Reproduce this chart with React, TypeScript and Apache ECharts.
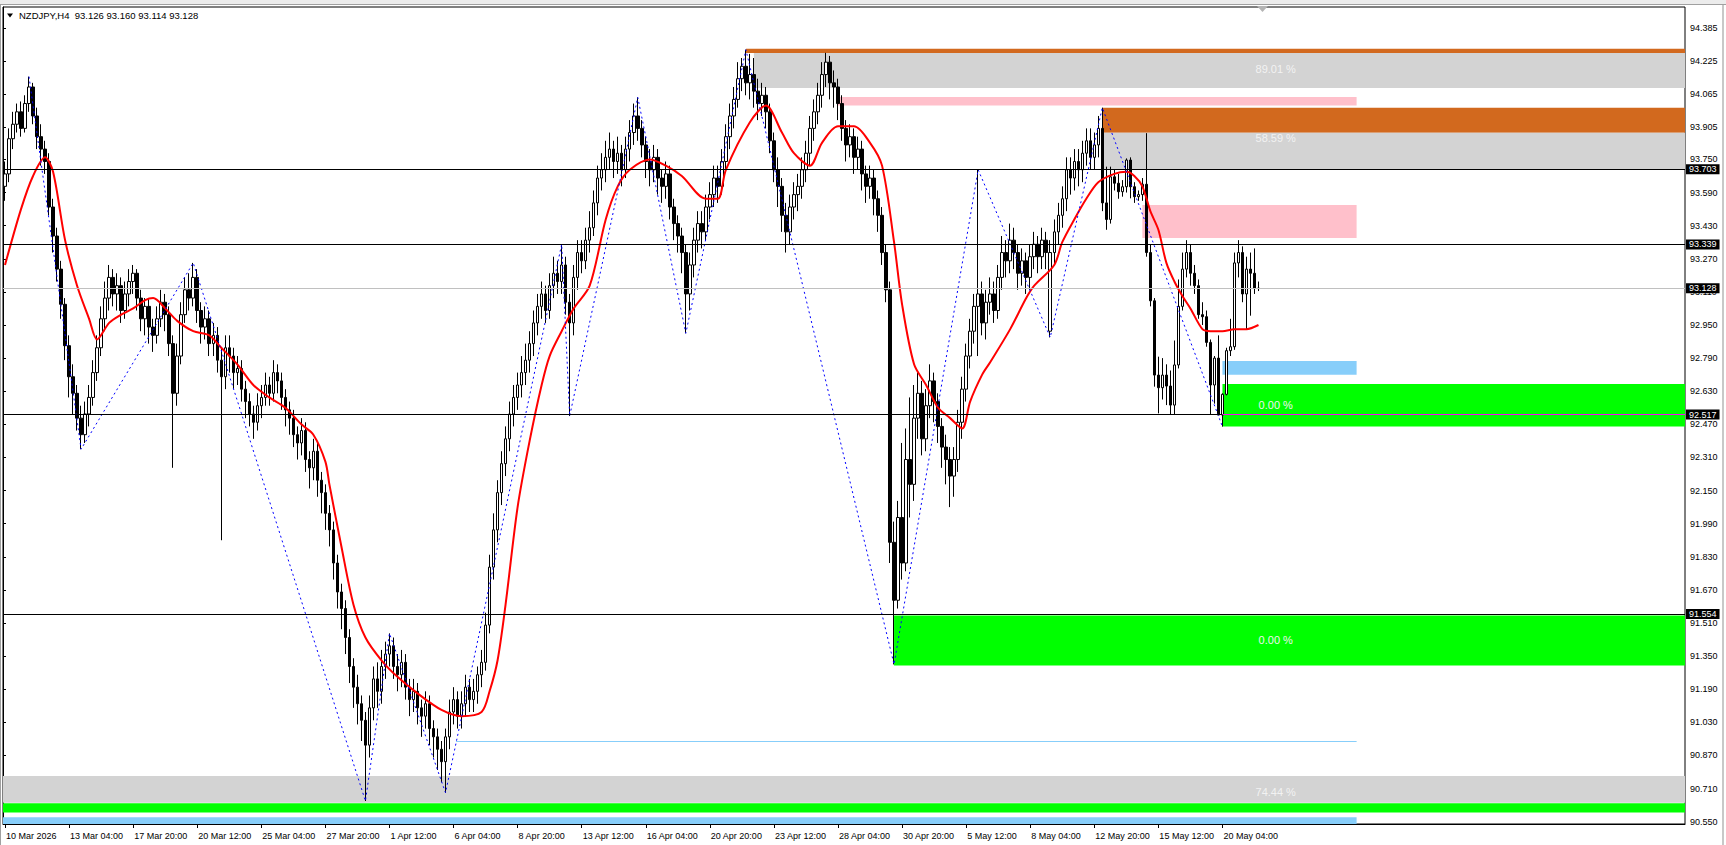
import React, { useEffect, useRef } from "react";
import * as echarts from "echarts";

// ---------------- data ----------------
const HEADER_TEXT = "NZDJPY,H4\u00a0\u00a093.126 93.160 93.114 93.128";

const TICK_LABELS = [
  "10 Mar 2026", "13 Mar 04:00", "17 Mar 20:00", "20 Mar 12:00", "25 Mar 04:00",
  "27 Mar 20:00", "1 Apr 12:00", "6 Apr 04:00", "8 Apr 20:00", "13 Apr 12:00",
  "16 Apr 04:00", "20 Apr 20:00", "23 Apr 12:00", "28 Apr 04:00", "30 Apr 20:00",
  "5 May 12:00", "8 May 04:00", "12 May 20:00", "15 May 12:00", "20 May 04:00",
];
const BARS_PER_LABEL = 16;
const SLOT_COUNT = 420;

const PRICE_LABELS = [
  94.385, 94.225, 94.065, 93.905, 93.75, 93.59, 93.43, 93.27, 93.11, 92.95,
  92.79, 92.63, 92.47, 92.31, 92.15, 91.99, 91.83, 91.67, 91.51, 91.35,
  91.19, 91.03, 90.87, 90.71, 90.55,
];
const Y_MIN = 90.5389;
const Y_MAX = 94.4865;

// [open, close, low, high]
const CANDLES: number[][] = [
  [93.62, 93.68, 93.55, 93.74], [93.68, 93.85, 93.64, 93.9], [93.85, 93.92, 93.8, 93.98], [93.92, 93.98, 93.88, 94.02],
  [93.98, 93.9, 93.86, 94.03], [93.9, 94.02, 93.88, 94.06], [94.02, 94.1, 93.98, 94.15], [94.1, 93.96, 93.92, 94.12],
  [93.96, 93.86, 93.8, 94.0], [93.86, 93.8, 93.72, 93.92], [93.8, 93.74, 93.68, 93.84], [93.74, 93.52, 93.48, 93.78],
  [93.52, 93.38, 93.3, 93.56], [93.38, 93.22, 93.16, 93.42], [93.22, 93.05, 92.98, 93.26], [93.05, 92.85, 92.78, 93.08],
  [92.85, 92.7, 92.6, 92.9], [92.7, 92.62, 92.52, 92.76], [92.62, 92.5, 92.44, 92.66], [92.5, 92.42, 92.35, 92.56],
  [92.42, 92.52, 92.38, 92.58], [92.52, 92.6, 92.46, 92.66], [92.6, 92.72, 92.56, 92.78], [92.72, 92.84, 92.68, 92.9],
  [92.84, 92.98, 92.8, 93.04], [92.98, 93.08, 92.92, 93.16], [93.08, 93.18, 93.02, 93.24], [93.18, 93.1, 93.04, 93.22],
  [93.1, 93.14, 93.02, 93.2], [93.14, 93.02, 92.96, 93.18], [93.02, 93.1, 92.98, 93.16], [93.1, 93.16, 93.04, 93.22],
  [93.16, 93.2, 93.1, 93.24], [93.2, 93.08, 93.02, 93.22], [93.08, 92.98, 92.92, 93.12], [92.98, 93.04, 92.9, 93.08],
  [93.04, 92.94, 92.86, 93.08], [92.94, 92.9, 92.82, 92.98], [92.9, 92.98, 92.86, 93.04], [92.98, 93.06, 92.94, 93.12],
  [93.06, 93.0, 92.92, 93.1], [93.0, 92.86, 92.8, 93.04], [92.86, 92.62, 92.26, 92.9], [92.62, 92.8, 92.56, 92.86],
  [92.8, 93.0, 92.76, 93.06], [93.0, 93.12, 92.96, 93.18], [93.12, 93.08, 93.02, 93.2], [93.08, 93.18, 93.04, 93.25],
  [93.18, 93.02, 92.96, 93.22], [93.02, 92.94, 92.86, 93.06], [92.94, 92.98, 92.88, 93.04], [92.98, 92.86, 92.8, 93.02],
  [92.86, 92.9, 92.8, 92.96], [92.9, 92.78, 92.72, 92.94], [92.78, 92.7, 91.91, 92.84], [92.7, 92.84, 92.64, 92.9],
  [92.84, 92.8, 92.72, 92.9], [92.8, 92.72, 92.64, 92.84], [92.72, 92.74, 92.66, 92.8], [92.74, 92.64, 92.58, 92.78],
  [92.64, 92.58, 92.5, 92.68], [92.58, 92.52, 92.46, 92.62], [92.52, 92.48, 92.4, 92.56], [92.48, 92.56, 92.44, 92.62],
  [92.56, 92.6, 92.5, 92.66], [92.6, 92.66, 92.56, 92.72], [92.66, 92.62, 92.56, 92.7], [92.62, 92.72, 92.58, 92.78],
  [92.72, 92.68, 92.62, 92.76], [92.68, 92.6, 92.54, 92.72], [92.6, 92.54, 92.46, 92.64], [92.54, 92.5, 92.42, 92.58],
  [92.5, 92.42, 92.36, 92.54], [92.42, 92.38, 92.3, 92.46], [92.38, 92.44, 92.32, 92.5], [92.44, 92.3, 92.24, 92.48],
  [92.3, 92.26, 92.16, 92.34], [92.26, 92.34, 92.2, 92.4], [92.34, 92.2, 92.12, 92.38], [92.2, 92.14, 92.04, 92.24],
  [92.14, 92.04, 91.96, 92.18], [92.04, 91.96, 91.88, 92.08], [91.96, 91.8, 91.72, 92.0], [91.8, 91.66, 91.58, 91.84],
  [91.66, 91.58, 91.48, 91.7], [91.58, 91.44, 91.36, 91.62], [91.44, 91.3, 91.22, 91.48], [91.3, 91.2, 91.1, 91.34],
  [91.2, 91.12, 91.02, 91.26], [91.12, 91.04, 90.94, 91.16], [91.04, 90.92, 90.65, 91.08], [90.92, 91.1, 90.86, 91.16],
  [91.1, 91.24, 91.04, 91.3], [91.24, 91.18, 91.1, 91.32], [91.18, 91.3, 91.12, 91.38], [91.3, 91.36, 91.24, 91.42],
  [91.36, 91.4, 91.3, 91.46], [91.4, 91.3, 91.24, 91.44], [91.3, 91.26, 91.18, 91.36], [91.26, 91.32, 91.2, 91.38],
  [91.32, 91.2, 91.14, 91.36], [91.2, 91.14, 91.06, 91.24], [91.14, 91.18, 91.08, 91.24], [91.18, 91.1, 91.02, 91.22],
  [91.1, 91.06, 90.96, 91.14], [91.06, 91.12, 91.0, 91.18], [91.12, 91.0, 90.92, 91.16], [91.0, 90.96, 90.86, 91.04],
  [90.96, 90.9, 90.8, 91.0], [90.9, 90.84, 90.74, 90.94], [90.84, 90.96, 90.69, 91.0], [90.96, 91.08, 90.9, 91.14],
  [91.08, 91.14, 91.02, 91.2], [91.14, 91.06, 91.0, 91.18], [91.06, 91.12, 91.0, 91.18], [91.12, 91.2, 91.06, 91.26],
  [91.2, 91.14, 91.08, 91.24], [91.14, 91.18, 91.08, 91.24], [91.18, 91.26, 91.12, 91.3], [91.26, 91.32, 91.2, 91.38],
  [91.32, 91.5, 91.28, 91.56], [91.5, 91.78, 91.46, 91.84], [91.78, 91.96, 91.72, 92.04], [91.96, 92.14, 91.9, 92.2],
  [92.14, 92.28, 92.08, 92.34], [92.28, 92.4, 92.22, 92.46], [92.4, 92.52, 92.34, 92.58], [92.52, 92.6, 92.46, 92.66],
  [92.6, 92.66, 92.54, 92.72], [92.66, 92.72, 92.6, 92.8], [92.72, 92.78, 92.66, 92.86], [92.78, 92.86, 92.72, 92.92],
  [92.86, 92.96, 92.8, 93.02], [92.96, 93.04, 92.9, 93.1], [93.04, 93.1, 92.98, 93.16], [93.1, 93.02, 92.96, 93.14],
  [93.02, 93.14, 92.98, 93.2], [93.14, 93.2, 93.08, 93.28], [93.2, 93.16, 93.1, 93.26], [93.16, 93.24, 93.1, 93.34],
  [93.24, 93.06, 93.0, 93.28], [93.06, 92.96, 92.51, 93.1], [92.96, 93.18, 92.9, 93.24], [93.18, 93.3, 93.12, 93.36],
  [93.3, 93.26, 93.2, 93.36], [93.26, 93.36, 93.22, 93.42], [93.36, 93.42, 93.3, 93.5], [93.42, 93.54, 93.38, 93.6],
  [93.54, 93.66, 93.48, 93.72], [93.66, 93.7, 93.6, 93.78], [93.7, 93.76, 93.64, 93.84], [93.76, 93.8, 93.7, 93.88],
  [93.8, 93.74, 93.66, 93.84], [93.74, 93.78, 93.68, 93.86], [93.78, 93.7, 93.62, 93.82], [93.7, 93.8, 93.66, 93.86],
  [93.8, 93.88, 93.74, 93.94], [93.88, 93.96, 93.82, 94.02], [93.96, 93.9, 93.84, 94.05], [93.9, 93.82, 93.76, 93.94],
  [93.82, 93.74, 93.66, 93.86], [93.74, 93.7, 93.62, 93.8], [93.7, 93.76, 93.64, 93.82], [93.76, 93.66, 93.58, 93.8],
  [93.66, 93.62, 93.54, 93.7], [93.62, 93.68, 93.56, 93.74], [93.68, 93.52, 93.46, 93.72], [93.52, 93.44, 93.36, 93.56],
  [93.44, 93.38, 93.3, 93.48], [93.38, 93.3, 93.2, 93.42], [93.3, 93.1, 92.91, 93.34], [93.1, 93.24, 93.02, 93.3],
  [93.24, 93.36, 93.18, 93.42], [93.36, 93.44, 93.3, 93.5], [93.44, 93.4, 93.32, 93.5], [93.4, 93.52, 93.36, 93.58],
  [93.52, 93.58, 93.46, 93.64], [93.58, 93.66, 93.52, 93.72], [93.66, 93.62, 93.54, 93.72], [93.62, 93.74, 93.58, 93.8],
  [93.74, 93.86, 93.7, 93.92], [93.86, 93.96, 93.8, 94.02], [93.96, 94.04, 93.9, 94.1], [94.04, 94.14, 94.0, 94.22],
  [94.14, 94.2, 94.08, 94.24], [94.2, 94.12, 94.06, 94.28], [94.12, 94.16, 94.04, 94.26], [94.16, 94.08, 94.0, 94.24],
  [94.08, 94.02, 93.94, 94.14], [94.02, 94.06, 93.96, 94.12], [94.06, 93.98, 93.9, 94.1], [93.98, 93.84, 93.78, 94.02],
  [93.84, 93.7, 93.64, 93.88], [93.7, 93.62, 93.52, 93.76], [93.62, 93.48, 93.4, 93.66], [93.48, 93.4, 93.3, 93.54],
  [93.4, 93.52, 93.34, 93.58], [93.52, 93.58, 93.46, 93.64], [93.58, 93.62, 93.5, 93.68], [93.62, 93.7, 93.56, 93.76],
  [93.7, 93.78, 93.64, 93.84], [93.78, 93.9, 93.72, 93.96], [93.9, 93.98, 93.84, 94.04], [93.98, 94.06, 93.92, 94.12],
  [94.06, 94.16, 94.0, 94.22], [94.16, 94.22, 94.1, 94.265], [94.22, 94.12, 94.04, 94.25], [94.12, 94.1, 94.0, 94.18],
  [94.1, 94.02, 93.94, 94.14], [94.02, 93.9, 93.84, 94.06], [93.9, 93.82, 93.74, 93.94], [93.82, 93.86, 93.76, 93.92],
  [93.86, 93.76, 93.68, 93.9], [93.76, 93.8, 93.7, 93.86], [93.8, 93.68, 93.6, 93.84], [93.68, 93.62, 93.54, 93.72],
  [93.62, 93.66, 93.56, 93.72], [93.66, 93.56, 93.48, 93.7], [93.56, 93.48, 93.4, 93.6], [93.48, 93.3, 93.24, 93.52],
  [93.3, 93.12, 93.06, 93.34], [93.12, 91.9, 91.8, 93.16], [91.9, 91.62, 91.31, 92.0], [91.62, 92.02, 91.58, 92.1],
  [92.02, 91.8, 91.72, 92.38], [91.8, 92.3, 91.76, 92.45], [92.3, 92.18, 92.02, 92.6], [92.18, 92.5, 92.1, 92.66],
  [92.5, 92.62, 92.4, 92.72], [92.62, 92.4, 92.32, 92.68], [92.4, 92.56, 92.34, 92.64], [92.56, 92.68, 92.5, 92.76],
  [92.68, 92.58, 92.48, 92.72], [92.58, 92.46, 92.38, 92.62], [92.46, 92.36, 92.26, 92.5], [92.36, 92.3, 92.18, 92.42],
  [92.3, 92.22, 92.07, 92.36], [92.22, 92.3, 92.12, 92.36], [92.3, 92.48, 92.24, 92.54], [92.48, 92.64, 92.4, 92.7],
  [92.64, 92.8, 92.58, 92.86], [92.8, 92.92, 92.74, 92.98], [92.92, 93.04, 92.86, 93.1], [93.04, 93.1, 92.8, 93.7],
  [93.1, 92.96, 92.9, 93.16], [92.96, 93.06, 92.88, 93.12], [93.06, 93.1, 93.0, 93.18], [93.1, 93.02, 92.96, 93.16],
  [93.02, 93.18, 92.98, 93.24], [93.18, 93.3, 93.12, 93.38], [93.3, 93.26, 93.18, 93.36], [93.26, 93.36, 93.2, 93.44],
  [93.36, 93.3, 93.22, 93.42], [93.3, 93.2, 93.12, 93.34], [93.2, 93.26, 93.14, 93.32], [93.26, 93.18, 93.1, 93.3],
  [93.18, 93.28, 93.12, 93.34], [93.28, 93.34, 93.22, 93.4], [93.34, 93.28, 93.2, 93.38], [93.28, 93.36, 93.22, 93.42],
  [93.36, 93.3, 93.22, 93.4], [92.92, 93.3, 92.89, 93.36], [93.3, 93.4, 93.24, 93.46], [93.4, 93.48, 93.34, 93.54],
  [93.48, 93.56, 93.42, 93.62], [93.56, 93.7, 93.5, 93.76], [93.7, 93.66, 93.58, 93.76], [93.66, 93.74, 93.6, 93.8],
  [93.74, 93.7, 93.62, 93.8], [93.7, 93.78, 93.64, 93.84], [93.78, 93.84, 93.72, 93.9], [93.84, 93.76, 93.7, 93.9],
  [93.76, 93.82, 93.7, 93.88], [93.82, 93.9, 93.76, 93.96], [93.9, 93.54, 93.5, 94.0], [93.54, 93.46, 93.41, 93.715],
  [93.46, 93.666, 93.44, 93.715], [93.666, 93.635, 93.6, 93.7], [93.635, 93.594, 93.56, 93.68], [93.594, 93.618, 93.57, 93.65],
  [93.618, 93.747, 93.59, 93.755], [93.747, 93.618, 93.562, 93.76], [93.618, 93.57, 93.54, 93.64], [93.57, 93.58, 93.55, 93.6],
  [93.58, 93.63, 93.55, 93.66], [93.63, 93.3, 93.28, 93.877], [93.3, 93.067, 93.04, 93.34], [93.067, 92.708, 92.652, 93.08],
  [92.708, 92.647, 92.523, 92.797], [92.647, 92.708, 92.59, 92.79], [92.708, 92.655, 92.563, 92.76], [92.655, 92.563, 92.515, 92.73],
  [92.563, 92.757, 92.515, 92.875], [92.757, 93.04, 92.74, 93.17], [93.04, 93.22, 93.02, 93.3], [93.22, 93.3, 93.18, 93.36],
  [93.3, 93.2, 93.14, 93.34], [93.2, 93.14, 93.1, 93.24], [93.14, 93.0, 92.98, 93.17], [93.0, 92.99, 92.95, 93.06],
  [92.99, 92.866, 92.845, 93.02], [92.866, 92.66, 92.515, 92.88], [92.66, 92.79, 92.57, 92.8], [92.79, 92.515, 92.515, 92.9],
  [92.515, 92.615, 92.459, 92.62], [92.615, 92.826, 92.61, 92.84], [92.826, 92.845, 92.8, 92.98], [92.845, 93.25, 92.83, 93.3],
  [93.25, 93.3, 93.18, 93.36], [93.3, 93.1, 93.06, 93.33], [93.1, 93.22, 92.93, 93.28], [93.22, 93.2, 92.995, 93.3],
  [93.2, 93.126, 93.1, 93.32], [93.126, 93.128, 93.114, 93.16],
];

// moving average: [bar index, value]
const MA_POINTS: number[][] = [
  [0, 93.24], [4, 93.51], [7, 93.67], [10, 93.76], [12, 93.69], [15, 93.36], [18, 93.14], [21, 92.98],
  [23, 92.88], [26, 92.96], [29, 93.0], [32, 93.03], [35, 93.07], [37, 93.08], [40, 93.03], [43, 92.97],
  [47, 92.92], [51, 92.9], [54, 92.84], [58, 92.76], [62, 92.66], [66, 92.6], [70, 92.55], [74, 92.47],
  [77, 92.42], [80, 92.29], [81, 92.18], [84, 91.88], [87, 91.6], [90, 91.44], [94, 91.33], [98, 91.25],
  [103, 91.17], [109, 91.09], [114, 91.06], [119, 91.08], [121, 91.18], [123, 91.33], [125, 91.6], [128, 92.07],
  [131, 92.39], [134, 92.66], [136, 92.8], [139, 92.92], [142, 93.03], [146, 93.14], [150, 93.46], [153, 93.62],
  [156, 93.7], [161, 93.75], [165, 93.72], [169, 93.67], [175, 93.56], [178, 93.56], [180, 93.7], [186, 93.93],
  [190, 94.01], [194, 93.88], [197, 93.78], [201, 93.72], [204, 93.83], [208, 93.91], [212, 93.91], [216, 93.83],
  [219, 93.72], [222, 93.35], [224, 93.05], [227, 92.76], [230, 92.66], [233, 92.55], [236, 92.5], [239, 92.45],
  [241, 92.58], [244, 92.71], [246, 92.77], [251, 92.93], [255, 93.08], [257, 93.14], [262, 93.24], [264, 93.35],
  [267, 93.46], [270, 93.56], [273, 93.64], [277, 93.68], [280, 93.69], [282, 93.67], [284, 93.62], [286, 93.5],
  [288, 93.41], [290, 93.25], [292, 93.16], [294, 93.09], [296, 93.03], [299, 92.93], [301, 92.92], [304, 92.92],
  [307, 92.93], [310, 92.93], [313, 92.95],
];

// zigzag vertices: [bar index, price]
const ZIGZAG_POINTS: number[][] = [
  [6, 94.15], [19, 92.35], [47, 93.25], [90, 90.65], [96, 91.46], [110, 90.69], [139, 93.34], [141, 92.51],
  [158, 94.05], [170, 92.91], [185, 94.28], [222, 91.31], [243, 93.7], [261, 92.89], [274, 94.0], [304, 92.459],
];

// horizontal levels
const LEVEL_LINES = [93.703, 93.339, 92.517, 91.554];
const BID_PRICE = 93.128;

// zones: [start bar (null = left edge), end bar (null = right edge), high, low, kind]
const ZONES: (number | null | string)[][] = [
  [185, null, 94.285, 94.264, "orange"],
  [187, null, 94.264, 94.095, "gray"],
  [208, 337.5, 94.052, 94.01, "pink"],
  [274, null, 94.0, 93.879, "orange"],
  [274, null, 93.879, 93.704, "gray"],
  [284, 337.5, 93.53, 93.37, "pink"],
  [304, 337.5, 92.776, 92.71, "blue"],
  [304, null, 92.665, 92.459, "green"],
  [222, null, 91.546, 91.305, "green"],
  [null, null, 90.771, 90.642, "gray"],
  [null, null, 90.639, 90.594, "green"],
  [null, 337.5, 90.571, Y_MIN, "blue"],
];
const MAGENTA_LINE = [304, 92.517];
const BLUE_LINE = [112.6, 337.5, 90.938];

// level percentage labels: [text, price]
const PERCENT_LABELS: (string | number)[][] = [
  ["89.01 %", 94.185],
  ["58.59 %", 93.855],
  ["0.00 %", 92.563],
  ["0.00 %", 91.428],
  ["74.44 %", 90.694],
];
const PERCENT_LABEL_BAR = 317.3;

// ---------------- styles ----------------
const FONT = "'Liberation Sans', Arial, sans-serif";
const ZONE_COLORS: Record<string, string> = {
  orange: "#d2691e",
  gray: "#d3d3d3",
  pink: "#ffc0cb",
  blue: "#87cefa",
  green: "#00ff00",
};

export default function App() {
  const ref = useRef<HTMLDivElement>(null);

  useEffect(() => {
    document.body.style.margin = "0";
    if (!ref.current) return;
    const chart = echarts.init(ref.current, undefined, { renderer: "svg" });

    const categories = Array.from({ length: SLOT_COUNT }, (_, i) => String(i));
    const showTick = (index: number) =>
      index % BARS_PER_LABEL === 0 && index / BARS_PER_LABEL < TICK_LABELS.length;

    const maData: (number | null)[] = new Array(SLOT_COUNT).fill(null);
    MA_POINTS.forEach(([i, v]) => (maData[i] = v));
    const zzData: (number | null)[] = new Array(SLOT_COUNT).fill(null);
    ZIGZAG_POINTS.forEach(([i, v]) => (zzData[i] = v));

    const slot = (bar: number | null, edge: number) => (bar === null ? edge : (bar as number) + 0.5);

    const areaData = ZONES.map((z) => [
      { xAxis: slot(z[0] as number | null, 0), yAxis: z[2] as number, itemStyle: { color: ZONE_COLORS[z[4] as string] } },
      { xAxis: slot(z[1] as number | null, SLOT_COUNT), yAxis: z[3] as number },
    ]);

    const levelLabel = (v: number) => ({
      show: true,
      position: "end",
      distance: 1,
      formatter: v.toFixed(3),
      backgroundColor: "#000",
      color: "#fff",
      fontFamily: FONT,
      fontSize: 9,
      lineHeight: 9,
      padding: [1, 3, 0, 3],
    });

    const lineData: any[] = [
      ...LEVEL_LINES.map((v) => ({ yAxis: v, lineStyle: { color: "#000", width: 1, type: "solid" }, label: levelLabel(v) })),
      { yAxis: BID_PRICE, lineStyle: { color: "#c0c0c0", width: 1, type: "solid" }, label: levelLabel(BID_PRICE) },
      [
        { coord: [MAGENTA_LINE[0] + 0.5, MAGENTA_LINE[1]], lineStyle: { color: "#ff00ff", width: 1, type: "solid" }, label: { show: false } },
        { coord: [SLOT_COUNT, MAGENTA_LINE[1]] },
      ],
      [
        { coord: [BLUE_LINE[0] + 0.5, BLUE_LINE[2]], lineStyle: { color: "#87cefa", width: 1, type: "solid" }, label: { show: false } },
        { coord: [BLUE_LINE[1] + 0.5, BLUE_LINE[2]] },
      ],
    ];

    const pointData = PERCENT_LABELS.map(([t, p]) => ({
      coord: [PERCENT_LABEL_BAR + 0.5, p as number],
      symbol: "circle",
      symbolSize: 1,
      itemStyle: { color: "rgba(0,0,0,0)" },
      label: {
        show: true,
        position: "inside",
        formatter: t as string,
        color: "#f2f2f2",
        fontFamily: FONT,
        fontSize: 11,
      },
    }));

    chart.setOption({
      animation: false,
      backgroundColor: "#ffffff",
      textStyle: { fontFamily: FONT },
      grid: {
        left: 3,
        right: 41,
        top: 7,
        bottom: 21,
        show: true,
        borderColor: "#000",
        borderWidth: 1,
        backgroundColor: "transparent",
      },
      xAxis: [
        {
          type: "category",
          data: categories,
          boundaryGap: true,
          axisLine: { show: true, lineStyle: { color: "#000", width: 1 } },
          axisTick: { show: true, alignWithLabel: true, interval: showTick, length: 4, lineStyle: { color: "#000" } },
          axisLabel: {
            interval: showTick,
            formatter: (v: string) => TICK_LABELS[Number(v) / BARS_PER_LABEL] ?? "",
            align: "left",
            padding: [0, 0, 0, 1],
            margin: 7,
            color: "#000",
            fontFamily: FONT,
            fontSize: 9,
          },
          splitLine: { show: false },
        },
        {
          type: "value",
          show: false,
          min: 0,
          max: SLOT_COUNT,
          splitLine: { show: false },
        },
      ],
      yAxis: {
        type: "value",
        position: "right",
        min: Y_MIN,
        max: Y_MAX,
        scale: true,
        axisLine: { show: true, lineStyle: { color: "#000", width: 1 } },
        axisTick: { show: true, length: 3, customValues: PRICE_LABELS, lineStyle: { color: "#000" } },
        axisLabel: {
          customValues: PRICE_LABELS,
          formatter: (v: number) => v.toFixed(3),
          color: "#000",
          fontFamily: FONT,
          fontSize: 9,
          margin: 5,
        },
        splitLine: { show: false },
      },
      series: [
        {
          name: "objects",
          type: "line",
          xAxisIndex: 1,
          data: [],
          silent: true,
          markArea: { silent: true, z: 1, label: { show: false }, data: areaData },
          markLine: { silent: true, precision: 3, symbol: ["none", "none"], data: lineData },
          markPoint: { silent: true, data: pointData },
        },
        {
          name: "NZDJPY",
          type: "candlestick",
          xAxisIndex: 0,
          data: CANDLES,
          barWidth: 3,
          silent: true,
          itemStyle: {
            color: "#ffffff",
            color0: "#000000",
            borderColor: "#000000",
            borderColor0: "#000000",
            borderWidth: 1,
          },
        },
        {
          name: "MA",
          type: "line",
          xAxisIndex: 0,
          data: maData,
          connectNulls: true,
          showSymbol: false,
          smooth: 0.3,
          silent: true,
          lineStyle: { color: "#ff0000", width: 2 },
        },
        {
          name: "ZigZag",
          type: "line",
          xAxisIndex: 0,
          data: zzData,
          connectNulls: true,
          showSymbol: false,
          silent: true,
          lineStyle: { color: "#0000ff", width: 1, type: [2, 3] },
        },
      ],
      graphic: [
        { type: "rect", shape: { x: 0, y: 0, width: 1726, height: 4 }, style: { fill: "#ececec" }, silent: true },
        { type: "line", shape: { x1: 0, y1: 4.5, x2: 1726, y2: 4.5 }, style: { stroke: "#a0a0a0", lineWidth: 1 }, silent: true },
        { type: "rect", shape: { x: 1722, y: 5, width: 2, height: 840 }, style: { fill: "#c8c8c8" }, silent: true },
        { type: "line", shape: { x1: 0.5, y1: 5, x2: 0.5, y2: 845 }, style: { stroke: "#a0a0a0", lineWidth: 1 }, silent: true },
        { type: "polygon", shape: { points: [[1257, 6], [1268, 6], [1262.5, 12]] }, style: { fill: "#b4b4b4" }, silent: true },
        { type: "polygon", shape: { points: [[7, 13.5], [13, 13.5], [10, 17.5]] }, style: { fill: "#000" }, silent: true },
        {
          type: "text",
          x: 19,
          y: 15.7,
          silent: true,
          style: { text: HEADER_TEXT, fill: "#000", font: "9.5px 'Liberation Sans', Arial, sans-serif", verticalAlign: "middle" },
        },
      ],
    });

    return () => chart.dispose();
  }, []);

  return <div ref={ref} style={{ width: 1726, height: 845 }} />;
}
